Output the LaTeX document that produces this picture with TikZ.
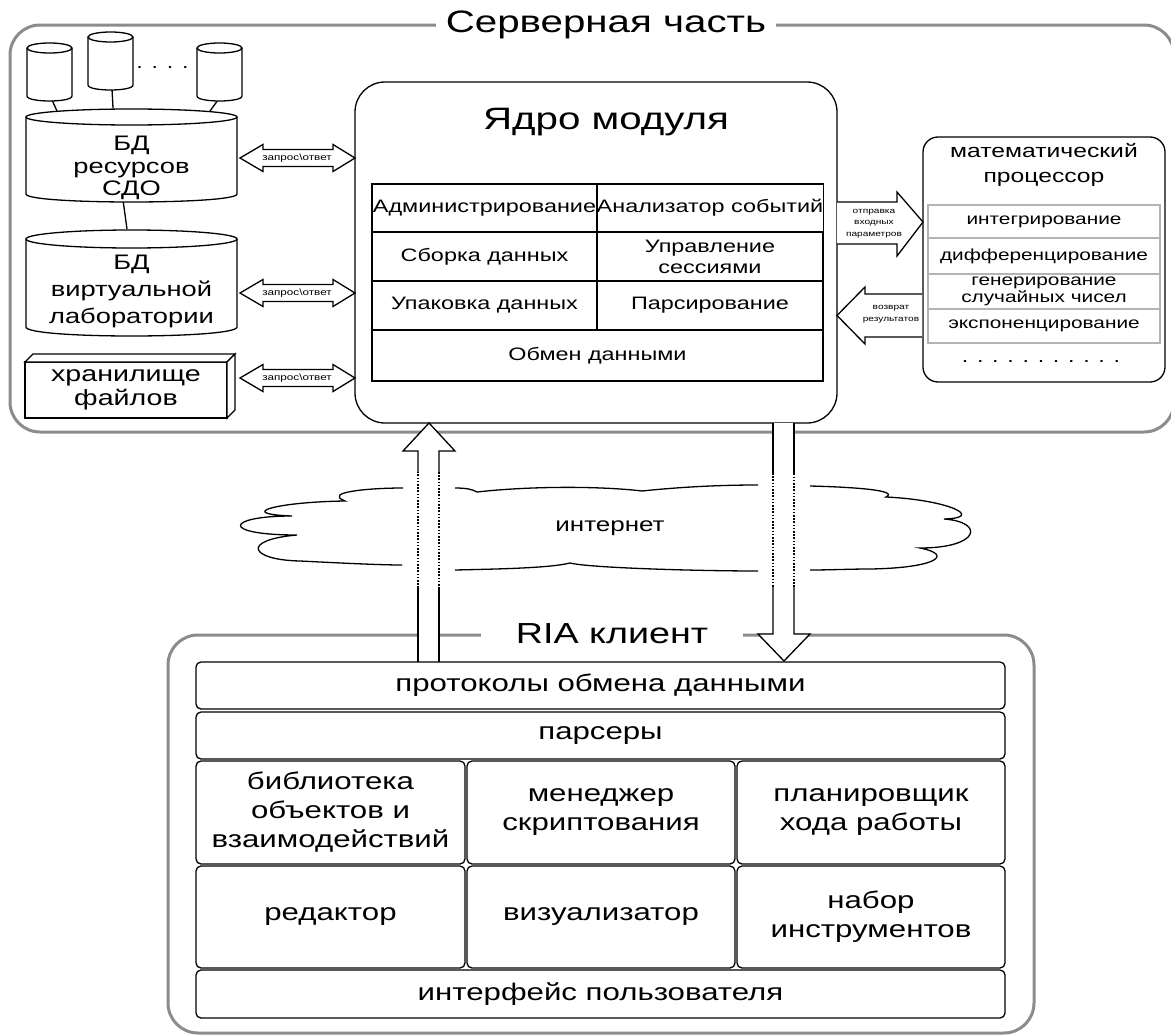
\documentclass[tikz,border=0pt]{standalone}
\usepackage{fontspec}
\setmainfont{Liberation Sans}[FakeStretch=1.3]
\definecolor{framegray}{HTML}{8C8C8C}
\definecolor{cellgray}{HTML}{B4B4B4}
\newcommand{\dbcyl}[5]{%
  \pgfmathsetmacro\cylcx{(#1+#2)/2}%
  \pgfmathsetmacro\cylrx{(#2-#1)/2}%
  \pgfmathsetmacro\cylbot{#4+4/3*#5}%
  \draw[ln,fill=white] (#1,#3) -- (#1,#4) .. controls (#1,\cylbot) and (#2,\cylbot) .. (#2,#4) -- (#2,#3);
  \draw[ln,fill=white] (\cylcx,#3) ellipse[x radius=\cylrx,y radius=#5];
}
\newcommand{\reqarrow}[1]{%
  \draw[ln,fill=white] (240,#1) -- (263,{#1-13.5}) -- (263,{#1-8.5}) -- (333,{#1-8.5}) -- (333,{#1-13.5}) -- (355,#1)
    -- (333,{#1+13.5}) -- (333,{#1+8.5}) -- (263,{#1+8.5}) -- (263,{#1+13.5}) -- cycle;
}
\begin{document}
\begin{tikzpicture}[x=1pt,y=-1pt,
  ln/.style={line width=1.3pt},
  dotln/.style={line width=1.3pt, dash pattern=on 1.6pt off 1.6pt},
  grayframe/.style={draw=framegray, line width=3pt, rounded corners=30pt},
  frametitle/.style={fill=white, inner ysep=2pt},
  tiny/.style={font=\fontsize{9}{10.5}\selectfont, align=center, inner sep=0pt},
  tinier/.style={font=\fontsize{7.8}{11.7}\selectfont, align=center, inner sep=0pt},
  core/.style={draw, line width=1.3pt, minimum height=48, inner sep=0pt, align=center, font=\fontsize{18}{21}\selectfont},
  mcell/.style={draw=cellgray, line width=1.5pt, minimum width=232, inner sep=0pt, align=center, font=\fontsize{16}{17}\selectfont},
  cell/.style={draw, line width=1.3pt, rounded corners=5pt, fill=white, inner sep=0pt, align=center, font=\fontsize{24}{29}\selectfont},
  dbtext/.style={inner sep=0pt, align=center, font=\fontsize{21}{24}\selectfont}
]
\useasboundingbox[fill=white] (0,0) rectangle (1171,1036);

% ---------- frames ----------
\draw[grayframe] (10,25) rectangle (1174,432);
\node[frametitle, inner xsep=10pt, font=\fontsize{31}{34}\selectfont] (srvtitle) at (606,25) {Серверная часть};
\draw[grayframe] (168,635) rectangle (1034,1033);
\node[frametitle, inner xsep=35pt, font=\fontsize{29}{32}\selectfont] (riatitle) at (612,634) {RIA клиент};

% ---------- databases ----------
\draw[ln] (52,100) -- (57,111);
\draw[ln] (112,89) -- (113,108);
\draw[ln] (218,100) -- (210,111);
\dbcyl{27}{72}{48}{96}{5}
\dbcyl{88}{133}{37}{85}{5}
\dbcyl{197}{242}{48}{96}{5}
\node[inner sep=0pt, anchor=base, font=\fontsize{18}{20}\selectfont] (dotsdb) at (162.5,68) {. . . .};

\draw[ln] (123,200) -- (127,229);
\dbcyl{26}{237}{117}{194}{8}
\node[dbtext, font=\fontsize{21}{22.5}\selectfont] (dbres) at (131.5,168) {БД\\ресурсов\\СДО};
\dbcyl{26}{237}{239}{327}{9}
\node[dbtext, font=\fontsize{21}{27}\selectfont] (dbvirt) at (131.5,291) {БД\\виртуальной\\лаборатории};

\draw[ln,fill=white] (25,362) rectangle (227,418);
\draw[ln,fill=white] (25,362) -- (33,354) -- (235,354) -- (227,362) -- cycle;
\draw[ln,fill=white] (227,362) -- (235,354) -- (235,410) -- (227,418) -- cycle;
\node[dbtext, font=\fontsize{22}{24}\selectfont] (files) at (126,390) {хранилище\\файлов};

% ---------- request arrows ----------
\reqarrow{158}
\node[tiny] (req1) at (297,158) {запрос\textbackslash ответ};
\reqarrow{293}
\node[tiny] (req2) at (297,293) {запрос\textbackslash ответ};
\reqarrow{378}
\node[tiny] (req3) at (297,378) {запрос\textbackslash ответ};

% ---------- core ----------
\node[draw, line width=1.3pt, rounded corners=30pt, minimum width=482, minimum height=341, inner sep=0pt] (corebox) at (596,252.5) {};
\node[inner sep=0pt, font=\fontsize{31}{34}\selectfont] (coretitle) at (606,122) {Ядро модуля};
\node[core, minimum width=225] (adm) at (484.5,208) {Администрирование};
\node[core, minimum width=226] (anal) at (710,208) {Анализатор событий};
\node[core, minimum width=225, minimum height=49] (sbor) at (484.5,256.5) {Сборка данных};
\node[core, minimum width=226, minimum height=49, font=\fontsize{18}{21}\selectfont] (upr) at (710,256.5) {Управление\\сессиями};
\node[core, minimum width=225, minimum height=49] (upak) at (484.5,305.5) {Упаковка данных};
\node[core, minimum width=226, minimum height=49] (pars) at (710,305.5) {Парсирование};
\node[core, minimum width=451, minimum height=51] (obmen) at (597.5,355.5) {Обмен данными};

% ---------- math processor ----------
\node[draw, line width=1.3pt, rounded corners=15pt, minimum width=242, minimum height=245, inner sep=0pt] (mathbox) at (1044,259.5) {};
\node[inner sep=0pt, align=center, font=\fontsize{19}{25}\selectfont] (mathtitle) at (1044,164.5) {математический\\процессор};
\node[mcell, minimum height=33] (integ) at (1044,221.5) {интегрирование};
\node[mcell, minimum height=36] (diff) at (1044,256) {дифференцирование};
\node[mcell, minimum height=35] (gen) at (1044,291.5) {генерирование\\случайных чисел};
\node[mcell, minimum height=34] (expo) at (1044,326) {экспоненцирование};
\node[inner sep=0pt, anchor=base, font=\fontsize{18}{20}\selectfont] (mathdots) at (1041,362) {. . . . . . . . . . .};

\draw[ln,fill=white] (837,202) -- (897,202) -- (897,192) -- (923,222) -- (897,256) -- (897,244) -- (837,244);
\node[tinier] (sendlbl) at (874,223.5) {отправка\\входных\\параметров};
\draw[ln,fill=white] (922,294) -- (865,294) -- (865,287) -- (837,315.5) -- (865,344) -- (865,337) -- (922,337);
\node[tinier, font=\fontsize{7.8}{12}\selectfont] (retlbl) at (891,314) {возврат\\результатов};

% ---------- internet cloud ----------
\draw[ln] (403,488) .. controls (370,488) and (322,492) .. (345,501)
  .. controls (275,502) and (235,514) .. (292,516)
  .. controls (225,516) and (220,535) .. (297,535)
  .. controls (240,540) and (250,560) .. (300,561)
  .. controls (340,563) and (380,565) .. (402,565);
\draw[ln] (455,488) .. controls (465,488) and (472,489) .. (477,492)
  .. controls (530,486) and (600,486) .. (642,491)
  .. controls (690,486) and (730,485) .. (758,485);
\draw[ln] (455,570) .. controls (500,569) and (550,568) .. (570,563)
  .. controls (590,568) and (700,571) .. (758,571);
\draw[ln] (810,486) .. controls (850,487) and (900,490) .. (886,497)
  .. controls (950,500) and (985,518) .. (944,519)
  .. controls (985,522) and (980,548) .. (920,548)
  .. controls (955,555) and (935,568) .. (870,569)
  .. controls (850,569) and (830,570) .. (810,570);
\node[inner sep=0pt, font=\fontsize{20}{22}\selectfont] (inet) at (610,528) {интернет};

% ---------- client <-> server arrows ----------
\fill[white] (418,662) -- (418,451) -- (403,451) -- (429,423) -- (455,451) -- (439,451) -- (439,662) -- cycle;
\draw[ln] (418,662) -- (418,588);
\draw[dotln] (418,588) -- (418,472);
\draw[ln] (418,472) -- (418,451) -- (403,451) -- (429,423) -- (455,451) -- (439,451) -- (439,472);
\draw[dotln] (439,472) -- (439,588);
\draw[ln] (439,588) -- (439,662);

\fill[white] (773,423) -- (773,634) -- (758,634) -- (784,660) -- (810,634) -- (794,634) -- (794,423) -- cycle;
\draw[ln] (773,423) -- (773,473);
\draw[dotln] (773,473) -- (773,587);
\draw[ln] (773,587) -- (773,634) -- (758,634) -- (784,661) -- (810,634) -- (794,634) -- (794,587);
\draw[dotln] (794,587) -- (794,473);
\draw[ln] (794,473) -- (794,423);

% ---------- client blocks ----------
\node[cell, minimum width=809, minimum height=47] (proto) at (600.5,685.5) {протоколы обмена данными};
\node[cell, minimum width=809, minimum height=47] (parsers) at (600.5,735.5) {парсеры};
\node[cell, minimum width=269, minimum height=103] (lib) at (330.5,812.5) {библиотека\\объектов и\\взаимодействий};
\node[cell, minimum width=268, minimum height=103] (mgr) at (601,812.5) {менеджер\\скриптования};
\node[cell, minimum width=268, minimum height=103] (plan) at (871,812.5) {планировщик\\хода работы};
\node[cell, minimum width=269, minimum height=102] (red) at (330.5,917) {редактор};
\node[cell, minimum width=268, minimum height=102] (vis) at (601,917) {визуализатор};
\node[cell, minimum width=268, minimum height=102] (nabor) at (871,917) {набор\\инструментов};
\node[cell, minimum width=809, minimum height=48] (ui) at (600.5,994) {интерфейс пользователя};
\end{tikzpicture}
\end{document}
